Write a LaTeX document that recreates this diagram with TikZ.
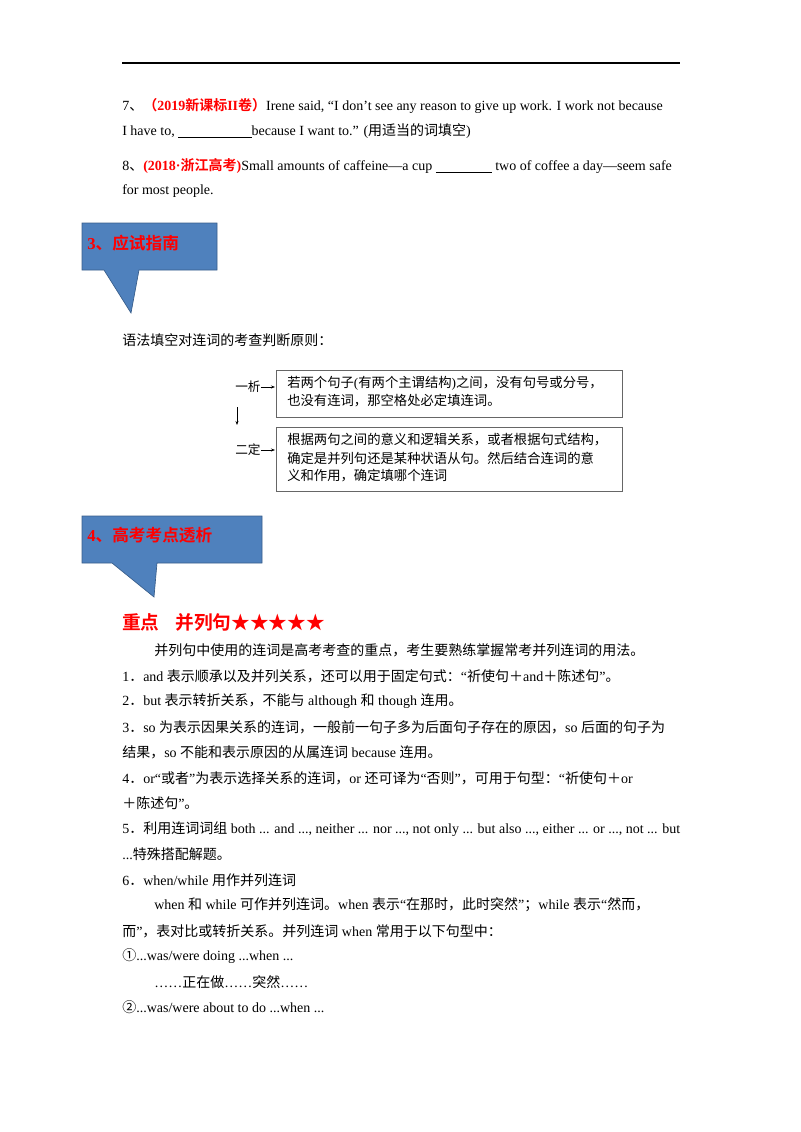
\documentclass[tikz,border=0pt]{standalone}
\usetikzlibrary{arrows.meta}
\usepackage{fontspec}
\setmainfont{Liberation Serif}
\newfontfamily\zhfam{Noto Sans CJK SC}[BoldFont={Noto Sans CJK SC Bold}]
\XeTeXinterchartokenstate=1
\newXeTeXintercharclass\zhclass
\newcount\zc
\def\setzh#1#2{\zc=#1 \loop\XeTeXcharclass\zc=\zhclass \advance\zc 1 \ifnum\zc<#2 \repeat}
\setzh{"4E00}{"A000}
\setzh{"3000}{"3040}
\setzh{"FF00}{"FFF0}
\setzh{"2460}{"2500}
\setzh{"2605}{"2606}
\setzh{"2192}{"2194}
\XeTeXinterchartoks 0 \zhclass = {\zhfam}
\XeTeXinterchartoks 4095 \zhclass = {\zhfam}
\XeTeXinterchartoks \zhclass 0 = {\rmfamily}
\XeTeXinterchartoks \zhclass 4095 = {\rmfamily}
\definecolor{cbox}{HTML}{4F81BD}
\definecolor{cedge}{HTML}{385D8A}
\definecolor{cred}{HTML}{FF0000}
\begin{document}
\begin{tikzpicture}[x=0.75pt,y=-0.75pt,
  ln/.style={anchor=west,inner sep=0pt,font=\fontsize{10.5}{12}\selectfont},
  hd/.style={anchor=west,inner sep=0pt,text=cred,font=\fontsize{12.5}{14}\selectfont\bfseries},
  rb/.style={draw=gray!80!black,line width=0.6pt},
  callout/.style={fill=cbox,draw=cedge,line width=0.5pt}]
\useasboundingbox (0,0) rectangle (800,1132);
\draw[line width=0.8pt] (122,63) -- (680,63);
\node[ln] (l7a) at (122,106) {7、{\color{cred}\bfseries（2019新课标II卷）}Irene said, “I don’t see any reason to give up work. I work not because};
\node[ln] (l7b) at (122,131) {I have to, \underline{\hspace{55pt}}because I want to.” (用适当的词填空)};
\node[ln] (l8a) at (122,166) {8、{\color{cred}\bfseries(2018·浙江高考)}Small amounts of caffeine—a cup \underline{\hspace{42pt}} two of coffee a day—seem safe};
\node[ln] (l8b) at (122,191) {for most people.};
% callout 3
\draw[callout] (82,223) -- (217,223) -- (217,270) -- (139,270) -- (131,313) -- (104,270) -- (82,270) -- cycle;
\node[hd] (h3) at (87,243) {3、应试指南};
\node[ln] (intro) at (122,340) {语法填空对连词的考查判断原则：};
\draw[rb] (276,370) rectangle (622,417);
\draw[rb] (276,427) rectangle (622,491);
\node[ln,font=\fontsize{10}{12}\selectfont] (t1a) at (287,383) {若两个句子(有两个主谓结构)之间，没有句号或分号，};
\node[ln,font=\fontsize{10}{12}\selectfont] (t1b) at (287,401) {也没有连词，那空格处必定填连词。};
\node[ln,font=\fontsize{10}{12}\selectfont] (t2a) at (287,440) {根据两句之间的意义和逻辑关系，或者根据句式结构，};
\node[ln,font=\fontsize{10}{12}\selectfont] (t2b) at (287,458) {确定是并列句还是某种状语从句。然后结合连词的意};
\node[ln,font=\fontsize{10}{12}\selectfont] (t2c) at (287,476) {义和作用，确定填哪个连词};
\node[ln,font=\fontsize{9.5}{11}\selectfont] (s1) at (235,387) {一析};
\node[ln,font=\fontsize{9.5}{11}\selectfont] (s2) at (235,450) {二定};
\draw[-{Stealth[length=3pt]},line width=0.5pt] (s1.east) -- (275,387);
\draw[-{Stealth[length=3pt]},line width=0.5pt] (s2.east) -- (275,450);
\draw[-{Stealth[length=3pt]},line width=0.6pt] (237,407) -- (237,425);
% callout 4
\draw[callout] (82,516) -- (262,516) -- (262,563) -- (157,563) -- (154,597) -- (112,563) -- (82,563) -- cycle;
\node[hd] (h4) at (87,535) {4、高考考点透析};
\node[hd,font=\fontsize{14}{16}\selectfont\bfseries] (h5) at (122,622) {重点\hspace{12pt}并列句★★★★★};
\node[ln] (b1) at (154,650) {并列句中使用的连词是高考考查的重点，考生要熟练掌握常考并列连词的用法。};
\node[ln] (b2) at (122,676) {1．and 表示顺承以及并列关系，还可以用于固定句式：“祈使句＋and＋陈述句”。};
\node[ln] (b3) at (122,701) {2．but 表示转折关系，不能与 although 和 though 连用。};
\node[ln] (b4) at (122,727) {3．so 为表示因果关系的连词，一般前一句子多为后面句子存在的原因，so 后面的句子为};
\node[ln] (b5) at (122,752) {结果，so 不能和表示原因的从属连词 because 连用。};
\node[ln] (b6) at (122,778) {4．or“或者”为表示选择关系的连词，or 还可译为“否则”，可用于句型：“祈使句＋or};
\node[ln] (b7) at (122,803) {＋陈述句”。};
\node[ln] (b8) at (122,829) {5．利用连词词组 both ... and ..., neither ... nor ..., not only ... but also ..., either ... or ..., not ... but};
\node[ln] (b9) at (122,854) {...特殊搭配解题。};
\node[ln] (b10) at (122,880) {6．when/while 用作并列连词};
\node[ln] (b11) at (154,905) {when 和 while 可作并列连词。when 表示“在那时，此时突然”；while 表示“然而，};
\node[ln] (b12) at (122,931) {而”，表对比或转折关系。并列连词 when 常用于以下句型中：};
\node[ln] (b13) at (122,956) {①...was/were doing ...when ...};
\node[ln] (b14) at (154,982) {……正在做……突然……};
\node[ln] (b15) at (122,1007) {②...was/were about to do ...when ...};
\end{tikzpicture}
\end{document}
